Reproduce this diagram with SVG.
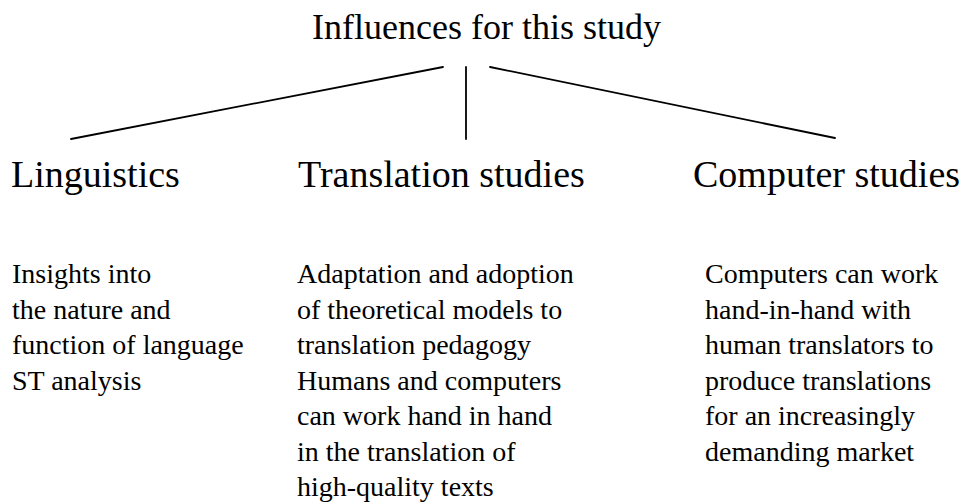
<svg xmlns="http://www.w3.org/2000/svg" width="966" height="502" viewBox="0 0 966 502">
  <style>
    text { font-family: "Liberation Serif", "Times New Roman", serif; fill: #000; }
    .title { font-size: 36px; }
    .head { font-size: 38px; }
    .body { font-size: 28px; }
    .link { stroke: #000; stroke-width: 1.8; fill: none; stroke-linecap: round; }
  </style>
  <rect width="966" height="502" fill="#fff"/>

  <g id="root">
    <text class="title" x="312" y="39">Influences for this study</text>
  </g>

  <g id="connectors">
    <line class="link" x1="443" y1="67" x2="71" y2="139"/>
    <line class="link" x1="466" y1="67" x2="466" y2="139"/>
    <line class="link" x1="490" y1="67" x2="835" y2="138"/>
  </g>

  <g id="linguistics">
    <text class="head" x="11" y="187">Linguistics</text>
    <text class="body" x="12" y="283">
      <tspan x="12">Insights into</tspan>
      <tspan x="12" dy="35.5">the nature and</tspan>
      <tspan x="12" dy="35.5">function of language</tspan>
      <tspan x="12" dy="35.5">ST analysis</tspan>
    </text>
  </g>

  <g id="translation-studies">
    <text class="head" x="298" y="187">Translation studies</text>
    <text class="body" x="297" y="283">
      <tspan x="297">Adaptation and adoption</tspan>
      <tspan x="297" dy="35.5">of theoretical models to</tspan>
      <tspan x="297" dy="35.5">translation pedagogy</tspan>
      <tspan x="297" dy="35.5">Humans and computers</tspan>
      <tspan x="297" dy="35.5">can work hand in hand</tspan>
      <tspan x="297" dy="35.5">in the translation of</tspan>
      <tspan x="297" dy="35.5">high-quality texts</tspan>
    </text>
  </g>

  <g id="computer-studies">
    <text class="head" x="693" y="187">Computer studies</text>
    <text class="body" x="705" y="283">
      <tspan x="705">Computers can work</tspan>
      <tspan x="705" dy="35.5">hand-in-hand with</tspan>
      <tspan x="705" dy="35.5">human translators to</tspan>
      <tspan x="705" dy="35.5">produce translations</tspan>
      <tspan x="705" dy="35.5">for an increasingly</tspan>
      <tspan x="705" dy="35.5">demanding market</tspan>
    </text>
  </g>
</svg>
